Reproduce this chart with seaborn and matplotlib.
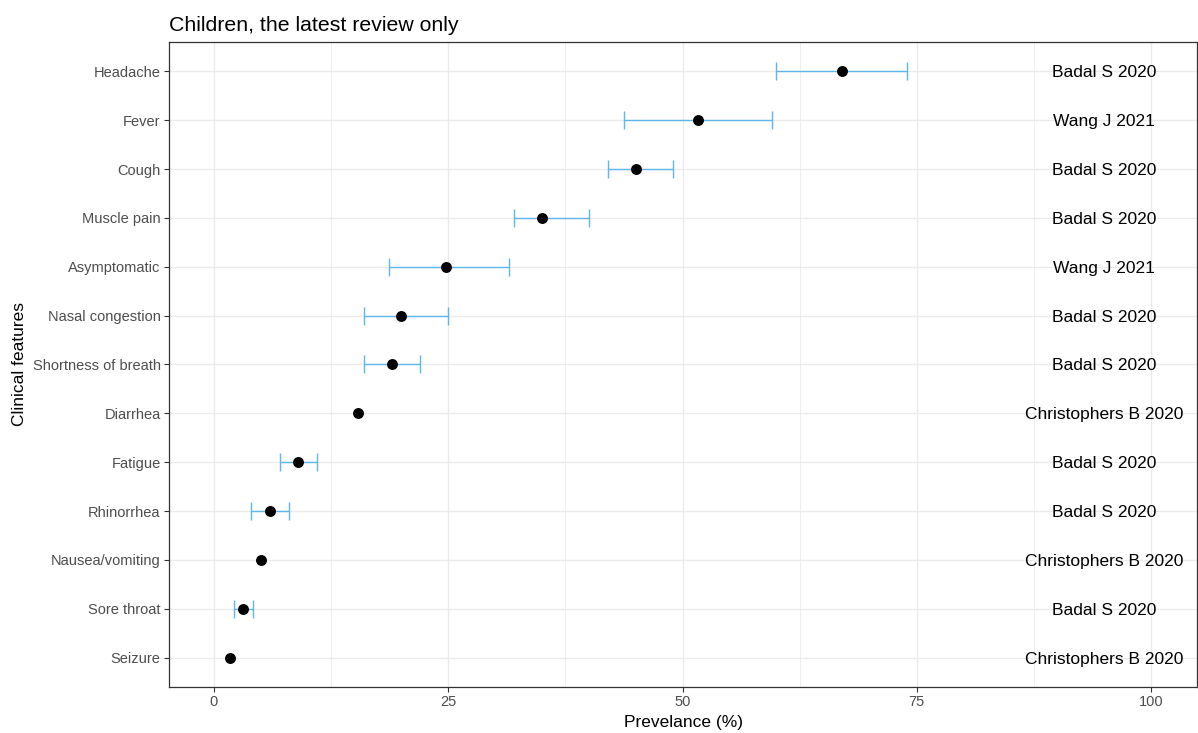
import numpy as np
import pandas as pd
import matplotlib
matplotlib.use("Agg")
import matplotlib.pyplot as plt
import seaborn as sns
from matplotlib.ticker import MultipleLocator, FixedLocator

# Prevalence of clinical features in children (latest review per feature)
features = ["Headache", "Fever", "Cough", "Muscle pain", "Asymptomatic",
            "Nasal congestion", "Shortness of breath", "Diarrhea", "Fatigue",
            "Rhinorrhea", "Nausea/vomiting", "Sore throat", "Seizure"]
prevalence = [67.0, 51.7, 45.0, 35.0, 24.8, 20.0, 19.0, 15.4, 9.0, 6.0, 5.0, 3.1, 1.7]
ci_low = [60.0, 43.8, 42.0, 32.0, 18.7, 16.0, 16.0, np.nan, 7.0, 4.0, np.nan, 2.1, np.nan]
ci_high = [74.0, 59.6, 49.0, 40.0, 31.5, 25.0, 22.0, np.nan, 11.0, 8.0, np.nan, 4.2, np.nan]
source = ["Badal S 2020", "Wang J 2021", "Badal S 2020", "Badal S 2020",
          "Wang J 2021", "Badal S 2020", "Badal S 2020", "Christophers B 2020",
          "Badal S 2020", "Badal S 2020", "Christophers B 2020", "Badal S 2020",
          "Christophers B 2020"]
x_ticks = [0, 25, 50, 75, 100]

df = pd.DataFrame({"feature": features, "prev": prevalence,
                   "lo": ci_low, "hi": ci_high, "source": source})

sns.set_theme(style="white")
plt.rcParams["font.family"] = ["Liberation Sans", "DejaVu Sans"]

fig = plt.figure(figsize=(11.98, 7.33), dpi=100)
ax = fig.add_axes([169 / 1198, 1 - 687 / 733, (1197 - 169) / 1198, (687 - 42) / 733])

grid_col = "#EBEBEB"
ax.set_axisbelow(True)

# register the feature order on the y axis before drawing anything
ax.yaxis.update_units(features)

# point estimates
sns.scatterplot(data=df, x="prev", y="feature", ax=ax, color="black",
                s=62, edgecolor="black", linewidth=0, zorder=3, legend=False)

# confidence intervals
ci = df.dropna(subset=["lo", "hi"])
ax.errorbar(x=ci["prev"], y=ci["feature"],
            xerr=[ci["prev"] - ci["lo"], ci["hi"] - ci["prev"]],
            fmt="none", ecolor="#5DB7EA", elinewidth=1.0, capsize=6.5,
            capthick=1.0, zorder=2)

# source labels
for feat, src in zip(df["feature"], df["source"]):
    ypos = ax.yaxis.convert_units(feat)
    ax.text(95, ypos, src, ha="center", va="center_baseline", fontsize=12.5,
            color="black", zorder=4)

ax.set_xlim(-4.8, 104.9)
ax.set_ylim(len(features) - 1 + 0.6, -0.6)

ax.xaxis.set_major_locator(FixedLocator(x_ticks))
ax.xaxis.set_minor_locator(MultipleLocator(12.5))
ax.grid(True, which="major", axis="both", color=grid_col, linewidth=1.0)
ax.grid(True, which="minor", axis="x", color=grid_col, linewidth=0.6)

for sp in ax.spines.values():
    sp.set_visible(True)
    sp.set_color("#333333")
    sp.set_linewidth(0.9)

ax.tick_params(axis="both", which="major", length=3.6, width=0.8,
               color="#333333", labelcolor="#4D4D4D", labelsize=10.5, pad=2.5,
               left=True, bottom=True)
ax.tick_params(axis="x", which="minor", length=0)

ax.set_xlabel("Prevelance (%)", fontsize=12.5, color="black", labelpad=4)
ax.set_ylabel("Clinical features", fontsize=12.5, color="black", labelpad=4)
ax.set_title("Children, the latest review only", loc="left", fontsize=15.3,
             color="black", pad=8)

fig.savefig("out.png", dpi=100)
